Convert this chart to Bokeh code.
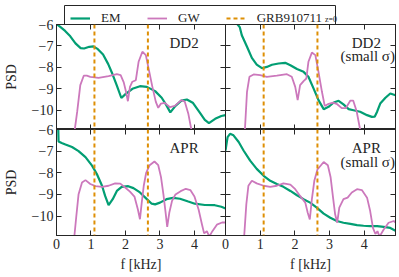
from bokeh.plotting import figure
from bokeh.models import (Range1d, LinearAxis, FixedTicker, Span, Label, Legend, LegendItem,
                          BoxAnnotation)
from bokeh.layouts import column, row
from bokeh.embed import file_html
from bokeh.resources import INLINE

# ---------------- data ----------------
freq_limits = (0.0, 4.9)
psd_limits = (-10.9, -6.0)
x_ticks = [0, 1, 2, 3, 4]
y_ticks = [-10, -9, -8, -7, -6]
y_tick_labels = {-10: "\u221210", -9: "\u22129", -8: "\u22128", -7: "\u22127", -6: "\u22126"}
grb_freqs = [1.1, 2.65]
series_names = ["EM", "GW", "GRB910711"]
grb_subscript = "z=0"
panel_names = [["DD2"], ["DD2", "(small \u03c3)"], ["APR"], ["APR", "(small \u03c3)"]]

# DD2
dd2_em_f = [0.0, 0.1, 0.25, 0.4, 0.55, 0.7, 0.8, 0.95, 1.07, 1.2, 1.35, 1.5, 1.62, 1.75, 1.88,
            2.0, 2.2, 2.42, 2.62, 2.86, 3.05, 3.18, 3.3, 3.45, 3.62, 3.78, 3.95, 4.15, 4.3, 4.42,
            4.6, 4.78, 4.9]
dd2_em_psd = [-5.98, -6.1, -6.3, -6.55, -6.88, -7.1, -7.12, -7.04, -7.02, -7.15, -7.4, -7.85, -8.3,
              -8.85, -9.43, -9.25, -9.0, -8.88, -8.91, -9.11, -9.42, -9.75, -10.1, -9.8, -9.55,
              -9.5, -9.65, -10.1, -10.45, -10.6, -10.4, -10.27, -10.23]
dd2_gw_f = [0.45, 0.53, 0.6, 0.69, 0.79, 0.88, 0.98, 1.22, 1.51, 1.75, 1.86, 1.95, 2.01, 2.07,
            2.13, 2.2, 2.3, 2.38, 2.49, 2.59, 2.68, 2.78, 2.88, 2.95, 3.03, 3.14, 3.29, 3.43,
            3.62, 3.72, 3.82, 3.91, 3.97]
dd2_gw_psd = [-12.0, -10.9, -10.07, -8.83, -8.39, -8.39, -8.44, -8.49, -8.41, -8.32, -8.36, -8.7,
              -9.1, -9.58, -8.91, -8.67, -8.6, -7.74, -7.27, -7.43, -8.13, -8.91, -9.61, -9.89,
              -9.69, -9.66, -9.86, -9.8, -9.53, -9.6, -10.15, -10.9, -12.0]

# DD2 (small sigma)
dd2s_em_f = [0.2, 0.35, 0.41, 0.47, 0.62, 0.76, 0.9, 1.05, 1.19, 1.34, 1.53, 1.72, 1.87, 2.06,
             2.25, 2.39, 2.54, 2.68, 2.83, 2.97, 3.12, 3.26, 3.4, 3.55, 3.69, 3.88, 4.08, 4.22,
             4.3, 4.37, 4.46, 4.61, 4.75, 4.9]
dd2s_em_psd = [-5.5, -6.0, -6.12, -6.5, -7.04, -7.56, -7.87, -8.04, -7.98, -7.88, -7.82, -7.79,
               -7.9, -8.08, -8.21, -8.44, -8.99, -9.53, -9.95, -9.84, -9.64, -9.56, -9.73, -9.95,
               -10.0, -10.07, -10.23, -10.31, -10.3, -10.07, -9.69, -9.42, -9.22, -9.3]
dd2s_gw_f = [0.45, 0.56, 0.62, 0.69, 0.81, 1.0, 1.19, 1.48, 1.77, 1.91, 2.01, 2.08, 2.15, 2.25,
             2.33, 2.39, 2.49, 2.59, 2.68, 2.78, 2.86, 2.95, 3.1, 3.22, 3.35, 3.47, 3.6, 3.68,
             3.78, 3.88, 3.95]
dd2s_gw_psd = [-12.0, -10.9, -9.14, -8.44, -8.33, -8.36, -8.44, -8.39, -8.32, -8.44, -8.91, -9.53,
               -8.83, -8.64, -8.52, -7.74, -7.31, -7.43, -8.21, -9.14, -9.8, -9.72, -9.65, -9.72,
               -9.9, -9.9, -9.55, -9.55, -10.05, -10.9, -12.0]

# APR
apr_em_f = [0.0, 0.05, 0.06, 0.15, 0.26, 0.45, 0.64, 0.84, 1.03, 1.17, 1.32, 1.41, 1.51, 1.63,
            1.75, 1.89, 2.08, 2.23, 2.42, 2.62, 2.76, 2.86, 3.0, 3.19, 3.38, 3.58, 3.82, 4.01,
            4.3, 4.59, 4.78, 4.92]
apr_em_psd = [-5.7, -5.95, -6.55, -6.62, -6.69, -6.81, -7.0, -7.28, -7.67, -8.06, -8.6, -9.07,
              -9.5, -9.22, -8.84, -8.65, -8.62, -8.71, -8.91, -9.22, -9.43, -9.46, -9.38, -9.22,
              -9.16, -9.2, -9.33, -9.43, -9.49, -9.5, -9.57, -9.66]
apr_gw_f = [0.45, 0.52, 0.57, 0.64, 0.74, 0.84, 0.98, 1.13, 1.32, 1.51, 1.7, 1.85, 1.99, 2.13,
            2.26, 2.36, 2.42, 2.47, 2.53, 2.6, 2.7, 2.84, 2.95, 3.03, 3.1, 3.16, 3.21, 3.27,
            3.35, 3.45, 3.6, 3.75, 3.88, 4.0, 4.12, 4.22, 4.28, 4.36, 4.43, 4.52, 4.65, 4.8, 4.92]
apr_gw_psd = [-12.0, -10.9, -10.08, -8.99, -8.45, -8.34, -8.52, -8.62, -8.65, -8.6, -8.49, -8.5,
              -8.68, -8.87, -9.1, -9.7, -10.15, -9.4, -8.6, -8.0, -7.65, -7.48, -7.65, -8.2,
              -9.0, -9.8, -10.5, -9.85, -9.3, -9.0, -8.85, -8.74, -8.8, -9.1, -9.7, -10.4,
              -10.8, -10.7, -10.95, -10.7, -10.4, -10.3, -10.3]

# APR (small sigma)
aprs_em_f = [0.0, 0.06, 0.13, 0.23, 0.38, 0.52, 0.71, 0.9, 1.1, 1.29, 1.48, 1.67, 1.87, 2.06,
             2.25, 2.44, 2.63, 2.83, 3.02, 3.21, 3.4, 3.6, 3.79, 3.98, 4.17, 4.37, 4.56, 4.75,
             4.9]
aprs_em_psd = [-6.97, -6.35, -6.2, -6.27, -6.58, -6.97, -7.44, -7.82, -8.14, -8.37, -8.52, -8.65,
               -8.84, -9.04, -9.22, -9.38, -9.61, -9.89, -10.08, -10.23, -10.31, -10.36, -10.42,
               -10.45, -10.47, -10.47, -10.5, -10.55, -10.68]
aprs_gw_f = [0.45, 0.54, 0.6, 0.66, 0.76, 0.9, 1.1, 1.29, 1.48, 1.67, 1.87, 2.01, 2.15, 2.3,
             2.37, 2.43, 2.49, 2.56, 2.65, 2.83, 2.95, 3.03, 3.1, 3.16, 3.22, 3.28, 3.4, 3.52,
             3.64, 3.79, 3.93, 4.08, 4.17, 4.25, 4.32, 4.38, 4.44, 4.56, 4.7, 4.85, 4.9]
aprs_gw_psd = [-12.0, -10.9, -9.46, -8.6, -8.37, -8.49, -8.6, -8.65, -8.6, -8.49, -8.55, -8.76,
               -9.07, -9.38, -9.85, -10.16, -9.22, -8.37, -7.85, -7.5, -7.65, -8.21, -9.15,
               -9.92, -10.31, -9.61, -9.22, -9.15, -8.91, -8.76, -8.8, -9.15, -9.77, -10.55,
               -10.83, -10.7, -10.95, -10.62, -10.31, -10.23, -10.3]

# ---------------- style ----------------
EM_COLOR = "#029e73"
GW_COLOR = "#cc78bc"
GRB_COLOR = "#de8f05"
AX = "#262626"
FONT = "Liberation Serif"


def style_axis(ax, ticks, show, overrides=None):
    ax.ticker = FixedTicker(ticks=ticks)
    ax.major_tick_in = 5
    ax.major_tick_out = 0
    ax.minor_tick_line_color = None
    ax.axis_line_color = AX
    ax.major_tick_line_color = AX
    ax.major_label_text_font = FONT
    if overrides:
        ax.major_label_overrides = overrides
    if show:
        ax.major_label_text_color = AX
        ax.major_label_text_font_size = "14px"
        ax.major_label_standoff = 3
    else:
        ax.major_label_text_color = None
        ax.major_label_text_font_size = "0px"
        ax.major_label_standoff = 0


def make_panel(em_f, em_psd, gw_f, gw_psd, names, left_labels, bottom_labels,
               width, height, borders):
    bl, br, bt, bb = borders
    p = figure(width=width, height=height,
               x_range=Range1d(*freq_limits), y_range=Range1d(*psd_limits),
               output_backend="svg", toolbar_location=None,
               min_border_left=bl, min_border_right=br,
               min_border_top=bt, min_border_bottom=bb)
    p.border_fill_color = None
    p.background_fill_color = "white"
    p.outline_line_color = AX
    p.grid.visible = False
    p.add_layout(LinearAxis(), "above")
    p.add_layout(LinearAxis(), "right")
    style_axis(p.below[0], x_ticks, bottom_labels)
    style_axis(p.above[0], x_ticks, False)
    style_axis(p.left[0], y_ticks, left_labels, y_tick_labels)
    style_axis(p.right[0], y_ticks, False)
    if bottom_labels:
        ax = p.below[0]
        ax.axis_label = "f [kHz]"
        ax.axis_label_text_font = FONT
        ax.axis_label_text_font_style = "normal"
        ax.axis_label_text_font_size = "14px"
        ax.axis_label_text_color = AX
        ax.axis_label_standoff = 5
    if left_labels:
        ax = p.left[0]
        ax.axis_label = "PSD"
        ax.axis_label_text_font = FONT
        ax.axis_label_text_font_style = "normal"
        ax.axis_label_text_font_size = "14px"
        ax.axis_label_text_color = AX
        ax.axis_label_standoff = 10

    p.line(em_f, em_psd, line_color=EM_COLOR, line_width=2.2)
    p.line(gw_f, gw_psd, line_color=GW_COLOR, line_width=1.8)
    for fq in grb_freqs:
        p.add_layout(Span(location=fq, dimension="height", line_color=GRB_COLOR,
                          line_width=2, line_dash="4 3"))
    if len(names) == 1:
        p.add_layout(Label(x=3.7, y=-7.22, text=names[0], text_align="center",
                           text_font=FONT, text_font_size="15px", text_color=AX))
    else:
        p.add_layout(Label(x=4.06, y=-7.22, text=names[0], text_align="center",
                           text_font=FONT, text_font_size="15px", text_color=AX))
        p.add_layout(Label(x=4.1, y=-7.85, text=names[1], text_align="center",
                           text_font=FONT, text_font_size="15px", text_color=AX))
    return p


p1 = make_panel(dd2_em_f, dd2_em_psd, dd2_gw_f, dd2_gw_psd, panel_names[0], True, False,
                226, 115, (55, 1, 10, 0))
p2 = make_panel(dd2s_em_f, dd2s_em_psd, dd2s_gw_f, dd2s_gw_psd, panel_names[1], False, False,
                182, 115, (8, 4, 10, 0))
p3 = make_panel(apr_em_f, apr_em_psd, apr_gw_f, apr_gw_psd, panel_names[2], True, True,
                226, 156, (55, 1, 8, 42))
p4 = make_panel(aprs_em_f, aprs_em_psd, aprs_gw_f, aprs_gw_psd, panel_names[3], False, True,
                182, 156, (8, 4, 8, 42))

# ---------------- legend strip ----------------
lf = figure(width=399, height=26, x_range=Range1d(0, 399), y_range=Range1d(0, 26),
            output_backend="svg", toolbar_location=None, min_border=0, title=None,
            x_axis_location=None, y_axis_location=None)
lf.outline_line_color = None
lf.grid.visible = False
lf.border_fill_color = None
lf.background_fill_color = None
# legend frame
lf.add_layout(BoxAnnotation(left=64, right=335, bottom=-2, top=21, fill_color="white",
                            fill_alpha=1.0, line_color=AX, line_width=1, line_alpha=1.0,
                            level="underlay"))
r_em = lf.line(x=[-10, -5], y=[-10, -10], line_color=EM_COLOR, line_width=2.2)
r_gw = lf.line(x=[-10, -5], y=[-10, -10], line_color=GW_COLOR, line_width=1.8)
r_grb = lf.line(x=[-10, -5], y=[-10, -10], line_color=GRB_COLOR, line_width=2, line_dash="4 3")
legend = Legend(items=[LegendItem(label=series_names[0], renderers=[r_em]),
                       LegendItem(label=series_names[1], renderers=[r_gw]),
                       LegendItem(label=series_names[2], renderers=[r_grb])],
                location=(70, 0), orientation="horizontal", padding=1, spacing=26,
                glyph_width=20, glyph_height=12, label_height=12, label_standoff=11,
                label_text_font=FONT, label_text_font_size="13px", label_text_color=AX,
                border_line_color=None, background_fill_alpha=0.0, margin=0)
lf.add_layout(legend)
# subscript of the GRB entry: a second, frameless legend without glyph
sub_legend = Legend(items=[LegendItem(label=grb_subscript, renderers=[r_grb])],
                    location=(325, 2), orientation="horizontal", padding=0, spacing=0,
                    glyph_width=0, glyph_height=8, label_height=8, label_standoff=0,
                    label_width=8, label_text_font=FONT, label_text_font_size="8px",
                    label_text_color=AX, border_line_color=None, background_fill_alpha=0.0,
                    margin=0)
lf.add_layout(sub_legend)

top = row(p1, p2)
top.margin = (-12, 0, 0, 0)
p2.margin = (0, 0, 0, -9)
bottom = row(p3, p4)
bottom.margin = (-8, 0, 0, 0)
p4.margin = (0, 0, 0, -9)
layout = column(lf, top, bottom)

open("out.html", "w").write(file_html(layout, INLINE))
